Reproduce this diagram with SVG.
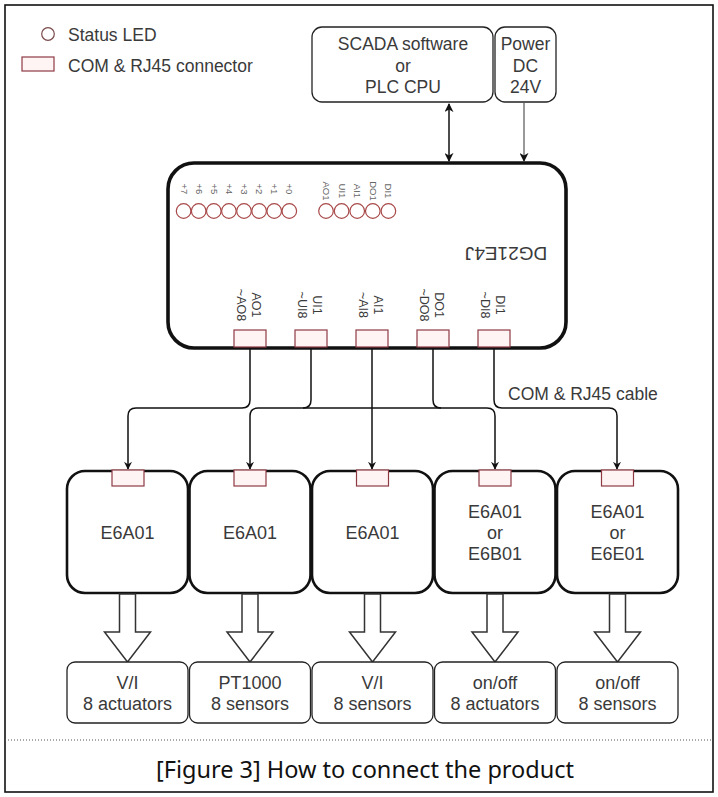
<svg xmlns="http://www.w3.org/2000/svg" width="718" height="797" viewBox="0 0 718 797">
<defs>
<marker id="ah" viewBox="0 0 10 10" refX="9" refY="5" markerWidth="8" markerHeight="8" markerUnits="userSpaceOnUse" orient="auto-start-reverse">
<path d="M0,0 L10,5 L0,10 L3,5 Z" fill="#111"/>
</marker>
<marker id="ah2" viewBox="0 0 10 10" refX="9" refY="5" markerWidth="9" markerHeight="9" markerUnits="userSpaceOnUse" orient="auto-start-reverse">
<path d="M0,0 L10,5 L0,10 L3,5 Z" fill="#111"/>
</marker>
</defs>
<style>
text{font-family:"Liberation Sans",Arial,sans-serif;fill:#3a3a3a}
.t{font-size:17.5px;text-anchor:middle}
.m{font-size:18px;text-anchor:middle}
.box{fill:#fff;stroke:#222;stroke-width:1.3}
.mod{fill:#fff;stroke:#111;stroke-width:2.6}
.led{fill:#fff;stroke:#a84848;stroke-width:1.2}
.port{fill:#fff4f4;stroke:#8e3a44;stroke-width:1.2}
.lbl{font-size:12.5px;text-anchor:middle}
.ll{font-size:9.5px;text-anchor:middle;fill:#666}
.wire{fill:none;stroke:#111;stroke-width:1.5}
.big{fill:#fff;stroke:#333;stroke-width:1.5}
</style>
<rect width="718" height="797" fill="#fff"/>
<rect x="5" y="5" width="708" height="787" fill="none" stroke="#111" stroke-width="1.6"/>
<line x1="5" y1="740" x2="713" y2="740" stroke="#555" stroke-width="1" stroke-dasharray="1,2"/>
<text x="365" y="778" style="font-family:'Noto Sans','Noto Sans CJK KR',sans-serif;font-size:23.5px;text-anchor:middle;fill:#111">[Figure 3] How to connect the product</text>

<g id="legend">
<circle cx="48" cy="34" r="6.3" stroke="#7a4a4a" stroke-width="1.2" fill="#fff"/>
<text x="68" y="41" style="font-size:17.5px">Status  LED</text>
<rect x="22" y="57" width="32" height="14" class="port"/>
<text x="68" y="72" style="font-size:17.5px">COM &amp; RJ45 connector</text>
</g>

<g id="scada">
<rect x="312" y="27" width="181" height="75" rx="10" class="box"/>
<text x="403" y="50" class="t">SCADA software</text>
<text x="403" y="72" class="t">or</text>
<text x="403" y="93" class="t">PLC CPU</text>
</g>
<g id="power">
<rect x="495" y="27" width="61" height="75" rx="10" class="box"/>
<text x="525.5" y="50" class="t">Power</text>
<text x="525.5" y="72" class="t">DC</text>
<text x="525.5" y="93" class="t">24V</text>
</g>

<g id="board">
<rect x="168" y="163" width="398" height="185" rx="26" fill="#fff" stroke="#111" stroke-width="3.6"/>
<text x="506" y="261" transform="rotate(180 506 254)" style="font-size:19px;text-anchor:middle">DG21E4J</text>
<g>
<circle cx="183.6" cy="211" r="7.3" class="led"/>
<circle cx="198.7" cy="211" r="7.3" class="led"/>
<circle cx="213.8" cy="211" r="7.3" class="led"/>
<circle cx="228.9" cy="211" r="7.3" class="led"/>
<circle cx="244" cy="211" r="7.3" class="led"/>
<circle cx="259.1" cy="211" r="7.3" class="led"/>
<circle cx="274.2" cy="211" r="7.3" class="led"/>
<circle cx="289.3" cy="211" r="7.3" class="led"/>
<circle cx="326" cy="211" r="7.3" class="led"/>
<circle cx="341.6" cy="211" r="7.3" class="led"/>
<circle cx="357.2" cy="211" r="7.3" class="led"/>
<circle cx="372.8" cy="211" r="7.3" class="led"/>
<circle cx="388.4" cy="211" r="7.3" class="led"/>
</g>
<g>
<text x="183.6" y="192" transform="rotate(90 183.6 189)" class="ll">+7</text>
<text x="198.7" y="192" transform="rotate(90 198.7 189)" class="ll">+6</text>
<text x="213.8" y="192" transform="rotate(90 213.8 189)" class="ll">+5</text>
<text x="228.9" y="192" transform="rotate(90 228.9 189)" class="ll">+4</text>
<text x="244" y="192" transform="rotate(90 244 189)" class="ll">+3</text>
<text x="259.1" y="192" transform="rotate(90 259.1 189)" class="ll">+2</text>
<text x="274.2" y="192" transform="rotate(90 274.2 189)" class="ll">+1</text>
<text x="289.3" y="192" transform="rotate(90 289.3 189)" class="ll">+0</text>
<text x="326" y="194" transform="rotate(90 326 191)" class="ll">AO1</text>
<text x="341.6" y="194" transform="rotate(90 341.6 191)" class="ll">UI1</text>
<text x="357.2" y="194" transform="rotate(90 357.2 191)" class="ll">AI1</text>
<text x="372.8" y="194" transform="rotate(90 372.8 191)" class="ll">DO1</text>
<text x="388.4" y="194" transform="rotate(90 388.4 191)" class="ll">DI1</text>
</g>
<g>
<text transform="rotate(90 249 305)" class="lbl"><tspan x="249" y="302">AO1</tspan><tspan x="249" y="317">~AO8</tspan></text>
<text transform="rotate(90 310 305)" class="lbl"><tspan x="310" y="302">UI1</tspan><tspan x="310" y="317">~UI8</tspan></text>
<text transform="rotate(90 371 305)" class="lbl"><tspan x="371" y="302">AI1</tspan><tspan x="371" y="317">~AI8</tspan></text>
<text transform="rotate(90 432 305)" class="lbl"><tspan x="432" y="302">DO1</tspan><tspan x="432" y="317">~DO8</tspan></text>
<text transform="rotate(90 493 305)" class="lbl"><tspan x="493" y="302">DI1</tspan><tspan x="493" y="317">~DI8</tspan></text>
</g>
<rect x="234" y="330" width="32" height="17" class="port"/>
<rect x="295" y="330" width="32" height="17" class="port"/>
<rect x="356" y="330" width="32" height="17" class="port"/>
<rect x="417" y="330" width="32" height="17" class="port"/>
<rect x="478" y="330" width="32" height="17" class="port"/>
</g>

<g id="connectors">
<line x1="449" y1="104" x2="449" y2="161" class="wire" marker-start="url(#ah2)" marker-end="url(#ah2)"/>
<line x1="524" y1="103" x2="524" y2="161" stroke="#777" stroke-width="1.5" marker-end="url(#ah2)"/>
<path d="M250,348 V400 Q250,408 242,408 H136 Q128,408 128,416 V469" class="wire" marker-end="url(#ah)"/>
<path d="M311,348 V400 Q311,408 303,408 H258 Q250,408 250,416 V469" class="wire" marker-end="url(#ah)"/>
<path d="M372,348 V469" class="wire" marker-end="url(#ah)"/>
<path d="M433,348 V400 Q433,408 441,408 H487 Q495,408 495,416 V469" class="wire" marker-end="url(#ah)"/>
<path d="M494,348 V400 Q494,408 502,408 H609 Q617,408 617,416 V469" class="wire" marker-end="url(#ah)"/>
<path d="M303,408 H441" class="wire"/>
<text x="508" y="400" style="font-size:17.5px">COM &amp; RJ45 cable</text>
</g>

<g id="mod1">
<rect x="67" y="471" width="121" height="122" rx="18" class="mod"/>
<rect x="112" y="470" width="32" height="16" class="port"/>
<text x="127.5" y="539" class="m">E6A01</text>
</g>
<g id="mod2">
<rect x="189.5" y="471" width="121" height="122" rx="18" class="mod"/>
<rect x="234" y="470" width="32" height="16" class="port"/>
<text x="250" y="539" class="m">E6A01</text>
</g>
<g id="mod3">
<rect x="312" y="471" width="121" height="122" rx="18" class="mod"/>
<rect x="356.5" y="470" width="32" height="16" class="port"/>
<text x="372.5" y="539" class="m">E6A01</text>
</g>
<g id="mod4">
<rect x="434.5" y="471" width="121" height="122" rx="18" class="mod"/>
<rect x="479" y="470" width="32" height="16" class="port"/>
<text x="495" y="518" class="m">E6A01</text>
<text x="495" y="539" class="m">or</text>
<text x="495" y="560" class="m">E6B01</text>
</g>
<g id="mod5">
<rect x="557" y="471" width="121" height="122" rx="18" class="mod"/>
<rect x="601.5" y="470" width="32" height="16" class="port"/>
<text x="617.5" y="518" class="m">E6A01</text>
<text x="617.5" y="539" class="m">or</text>
<text x="617.5" y="560" class="m">E6E01</text>
</g>

<g id="bigarrows">
<polygon points="119.5,594 119.5,632 104.5,632 127.5,662 150.5,632 135.5,632 135.5,594" class="big"/>
<polygon points="242,594 242,632 227,632 250,662 273,632 258,632 258,594" class="big"/>
<polygon points="364.5,594 364.5,632 349.5,632 372.5,662 395.5,632 380.5,632 380.5,594" class="big"/>
<polygon points="487,594 487,632 472,632 495,662 518,632 503,632 503,594" class="big"/>
<polygon points="609.5,594 609.5,632 594.5,632 617.5,662 640.5,632 625.5,632 625.5,594" class="big"/>
</g>

<g id="out1">
<rect x="67" y="662" width="121" height="61" rx="8" class="box"/>
<text x="127.5" y="689" class="m">V/I</text>
<text x="127.5" y="710" class="m">8 actuators</text>
</g>
<g id="out2">
<rect x="189.5" y="662" width="121" height="61" rx="8" class="box"/>
<text x="250" y="689" class="m">PT1000</text>
<text x="250" y="710" class="m">8 sensors</text>
</g>
<g id="out3">
<rect x="312" y="662" width="121" height="61" rx="8" class="box"/>
<text x="372.5" y="689" class="m">V/I</text>
<text x="372.5" y="710" class="m">8 sensors</text>
</g>
<g id="out4">
<rect x="434.5" y="662" width="121" height="61" rx="8" class="box"/>
<text x="495" y="689" class="m">on/off</text>
<text x="495" y="710" class="m">8 actuators</text>
</g>
<g id="out5">
<rect x="557" y="662" width="121" height="61" rx="8" class="box"/>
<text x="617.5" y="689" class="m">on/off</text>
<text x="617.5" y="710" class="m">8 sensors</text>
</g>
</svg>
